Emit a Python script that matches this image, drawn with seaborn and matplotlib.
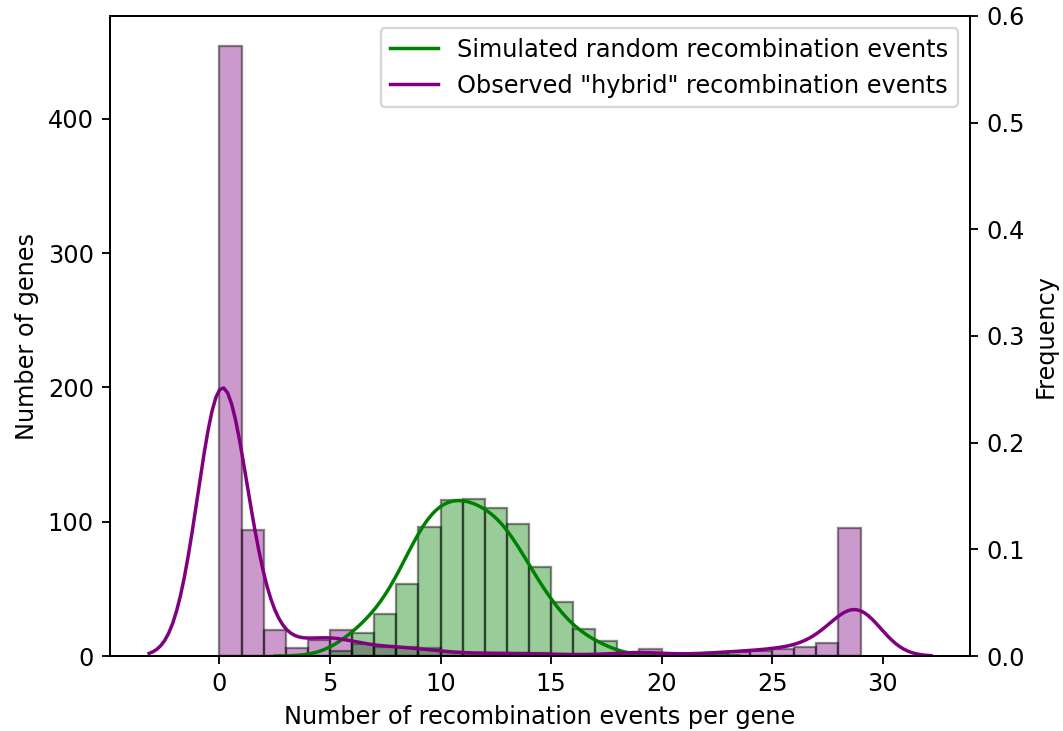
import numpy as np
import pandas as pd
import matplotlib
matplotlib.use("Agg")
import matplotlib.pyplot as plt
import seaborn as sns

# Number of recombination events per gene (integer values 0..29)
events = np.arange(30)

# Observed "hybrid" recombination events: number of genes per event count
observed_counts = [454, 94, 19, 6, 12, 19, 9, 7, 7, 6,
                   3, 2, 2, 2, 2, 1, 1, 1, 1, 5,
                   1, 1, 2, 3, 4, 5, 7, 10, 25, 70]

# Simulated random recombination events: number of genes per event count
simulated_counts = [0, 0, 0, 0, 0, 4, 17, 31, 54, 96,
                    116, 117, 110, 98, 66, 40, 20, 11, 3, 0,
                    0, 1, 0, 0, 0, 0, 0, 0, 0, 0]

sim_label = "Simulated random recombination events"
obs_label = 'Observed "hybrid" recombination events'

observed = pd.Series(np.repeat(events, observed_counts), name="events")
simulated = pd.Series(np.repeat(events, simulated_counts), name="events")

plt.rcParams["font.size"] = 10.4

fig = plt.figure(figsize=(1063 / 166, 731 / 166), dpi=166)
ax = fig.add_axes([110 / 1063, 75 / 731, 860 / 1063, 640 / 731])

bins = np.arange(0, 30)
edge = (0, 0, 0, 0.45)
sns.histplot(x=observed, bins=bins, color="purple", alpha=0.4,
             edgecolor=edge, linewidth=1, ax=ax)
sns.histplot(x=simulated, bins=bins, color="green", alpha=0.4,
             edgecolor=edge, linewidth=1, ax=ax)
ax.set_ylabel("Number of genes")
ax.set_xlabel("Number of recombination events per gene")
ax.set_yticks([0, 100, 200, 300, 400])

ax2 = ax.twinx()
sns.kdeplot(x=simulated, color="green", ax=ax2, label=sim_label, bw_adjust=1.25)
obs_bw = 1.06
sns.kdeplot(x=observed, color="purple", ax=ax2, label=obs_label,
            bw_method=obs_bw / observed.std(ddof=1))
ax2.set_ylim(0, 0.6)
ax2.set_ylabel("Frequency")
ax2.legend(loc="upper right")
ax.set_xticks([0, 5, 10, 15, 20, 25, 30])

fig.savefig("out.png", dpi=166)
